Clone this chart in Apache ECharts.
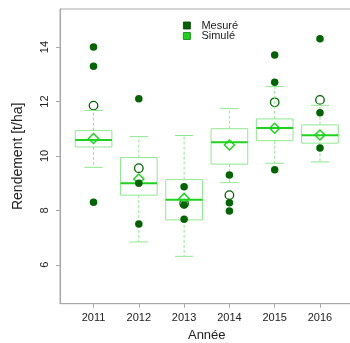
<!DOCTYPE html>
<html>
<head>
<meta charset="utf-8">
<script src="https://cdn.jsdelivr.net/npm/echarts@6/dist/echarts.min.js"></script>
<style>
  html, body { margin: 0; padding: 0; background: #fff; }
  #chart { width: 350px; height: 343px; }
</style>
</head>
<body>
<div id="chart"></div>
<script>
// Years on the x axis
const years = ['2011', '2012', '2013', '2014', '2015', '2016'];

// Simulated yield distribution per year (t/ha)
const simLow  = [9.58, 6.84, 6.31, 9.02, 9.73, 9.78];
const simQ1   = [10.33, 8.56, 7.65, 9.70, 10.56, 10.47];
const simMed  = [10.59, 9.00, 8.39, 10.50, 11.03, 10.76];
const simQ3   = [10.93, 9.94, 9.13, 11.00, 11.36, 11.14];
const simHigh = [11.67, 10.71, 10.75, 11.74, 12.55, 11.86];
const simMean = [10.64, 9.15, 8.44, 10.40, 11.02, 10.77];

// Measured yields per year (t/ha)
const measured = [
  [14.00, 13.30, 8.30],
  [12.10, 9.00, 7.50],
  [8.87, 8.20, 7.67],
  [9.30, 8.28, 7.98],
  [13.71, 12.71, 9.49],
  [14.31, 11.59, 10.29]
];
// Mean of the measured yields per year
const measuredMean = [11.85, 9.55, 8.25, 8.56, 11.97, 12.06];

// Y axis tick values
const yTicks = [6, 8, 10, 12, 14];

const boxColor = '#8fe88f';
const simColor = '#1ed21e';
const measColor = '#006400';
const frameColor = '#a8a8a8';

const boxData = years.map((_, i) => [i + 1, simLow[i], simQ1[i], simMed[i], simQ3[i], simHigh[i], simMean[i]]);
const pointData = [];
measured.forEach((vals, i) => vals.forEach(v => pointData.push([i + 1, v])));
const meanData = measuredMean.map((v, i) => [i + 1, v]);

function renderBox(params, api) {
  const x = api.value(0);
  const lo = api.coord([x, api.value(1)]);
  const q1 = api.coord([x, api.value(2)]);
  const med = api.coord([x, api.value(3)]);
  const q3 = api.coord([x, api.value(4)]);
  const hi = api.coord([x, api.value(5)]);
  const mean = api.coord([x, api.value(6)]);
  const halfBox = api.size([0.81, 0])[0] / 2;
  const halfCap = halfBox / 2;
  const cx = lo[0];
  const thin = { stroke: boxColor, lineWidth: 1, fill: null };
  const dashed = { stroke: boxColor, lineWidth: 1, lineDash: [3, 2], fill: null };
  const d = 5;
  return {
    type: 'group',
    children: [
      { type: 'line', shape: { x1: cx, y1: q3[1], x2: cx, y2: hi[1] }, style: dashed },
      { type: 'line', shape: { x1: cx, y1: q1[1], x2: cx, y2: lo[1] }, style: dashed },
      { type: 'line', shape: { x1: cx - halfCap, y1: hi[1], x2: cx + halfCap, y2: hi[1] }, style: thin },
      { type: 'line', shape: { x1: cx - halfCap, y1: lo[1], x2: cx + halfCap, y2: lo[1] }, style: thin },
      { type: 'rect', shape: { x: cx - halfBox, y: q3[1], width: halfBox * 2, height: q1[1] - q3[1] }, style: thin },
      { type: 'line', shape: { x1: cx - halfBox, y1: med[1], x2: cx + halfBox, y2: med[1] }, style: { stroke: simColor, lineWidth: 2 } },
      { type: 'polygon', z2: 5, shape: { points: [[cx, mean[1] - d], [cx + d, mean[1]], [cx, mean[1] + d], [cx - d, mean[1]]] },
        style: { stroke: simColor, lineWidth: 1.5, fill: null } }
    ]
  };
}

const chart = echarts.init(document.getElementById('chart'), null, { renderer: 'canvas', devicePixelRatio: 1 });

chart.setOption({
  animation: false,
  backgroundColor: '#fff',
  textStyle: { fontFamily: 'Liberation Sans, Arial, sans-serif' },
  grid: {
    left: 60, top: 9, width: 293.5, height: 294.7,
    outerBoundsMode: 'none', containLabel: false,
    show: true, borderColor: frameColor, borderWidth: 1, backgroundColor: 'transparent'
  },
  legend: {
    orient: 'vertical', left: 178, top: 15, itemGap: -0.5,
    itemWidth: 7, itemHeight: 7, icon: 'rect',
    textStyle: { fontSize: 11, color: '#222', lineHeight: 10, padding: [0, 0, 0, 6] },
    data: [
      { name: 'Mesuré', itemStyle: { color: measColor, borderColor: '#003d00', borderWidth: 0.8 } },
      { name: 'Simulé', itemStyle: { color: '#19d419', borderColor: '#0a7d0a', borderWidth: 0.8 } }
    ]
  },
  xAxis: {
    type: 'value', min: 0.26, max: 6.74,
    name: 'Année', nameLocation: 'middle', nameGap: 25,
    nameTextStyle: { fontSize: 13, color: '#222' },
    axisLine: { show: true, lineStyle: { color: frameColor } },
    axisTick: { show: true, length: 4, lineStyle: { color: frameColor }, customValues: [1, 2, 3, 4, 5, 6] },
    axisLabel: { fontSize: 11, color: '#222', margin: 9, customValues: [1, 2, 3, 4, 5, 6],
      formatter: v => years[Math.round(v) - 1] },
    splitLine: { show: false }
  },
  yAxis: {
    type: 'value', min: 4.57, max: 15.4,
    name: 'Rendement [t/ha]', nameLocation: 'middle', nameGap: 35, nameRotate: 90,
    nameTextStyle: { fontSize: 14, color: '#222' },
    axisLine: { show: true, lineStyle: { color: frameColor } },
    axisTick: { show: true, length: 4, lineStyle: { color: frameColor }, customValues: yTicks },
    axisLabel: { fontSize: 11, color: '#222', rotate: 90, margin: 10, customValues: yTicks },
    splitLine: { show: false }
  },
  series: [
    {
      name: 'Moyenne mesurée', type: 'scatter', data: meanData, symbol: 'circle', symbolSize: 8.5,
      itemStyle: { color: 'rgba(255,255,255,0)', borderColor: measColor, borderWidth: 1.3, opacity: 1 }, z: 2
    },
    {
      name: 'Simulé', type: 'custom', renderItem: renderBox,
      encode: { x: 0, y: [1, 2, 3, 4, 5, 6] }, data: boxData, z: 3
    },
    {
      name: 'Mesuré', type: 'scatter', data: pointData, symbol: 'circle', symbolSize: 7.5,
      itemStyle: { color: measColor, opacity: 1 }, z: 4
    }
  ]
});
</script>
</body>
</html>
